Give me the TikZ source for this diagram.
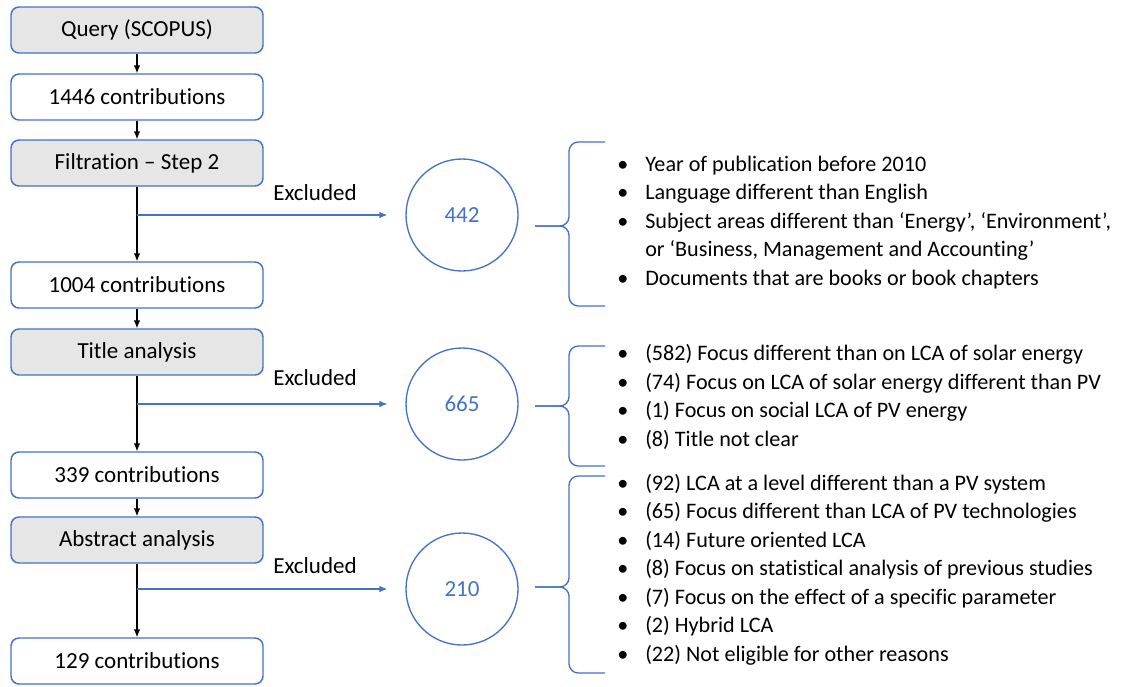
\documentclass[tikz,border=0pt]{standalone}
\usepackage{fontspec}
\setmainfont{Carlito}[Ligatures={NoCommon}]
\usetikzlibrary{arrows.meta}
\definecolor{ofblue}{HTML}{4472C4}
\definecolor{ofgray}{HTML}{E7E6E6}

\begin{document}
\begin{tikzpicture}[x=0.75pt, y=-0.75pt, >=Latex,
  box/.style={draw=ofblue, line width=1.1pt, rounded corners=6pt, minimum width=189pt, minimum height=34.5pt, font=\fontsize{17.25}{20}\selectfont},
  proc/.style={box, fill=ofgray},
  cnt/.style={box, fill=white},
  excl/.style={draw=ofblue, line width=1pt, circle, minimum size=84pt, text=ofblue, font=\fontsize{17.25}{20}\selectfont},
  flow/.style={->, line width=0.9pt, black, >={Latex[length=6pt,width=5pt]}},
  side/.style={->, line width=0.9pt, ofblue, >={Latex[length=6pt,width=5pt]}},
  lbl/.style={font=\fontsize{17.25}{20}\selectfont},
  reasons/.style={anchor=west, align=left, inner sep=0pt, font=\fontsize{16.6}{21.4}\selectfont}]
\useasboundingbox (0,0) rectangle (1148,686);
\newcommand{\bul}{\makebox[21pt][l]{\textbullet}}
% left column of boxes
\node[proc] (query) at (137,30)  {Query (SCOPUS)};
\node[cnt]  (n1446) at (137,97)  {1446 contributions};
\node[proc] (filt)  at (137,163) {Filtration -- Step 2};
\node[cnt]  (n1004) at (137,285) {1004 contributions};
\node[proc] (title) at (137,352) {Title analysis};
\node[cnt]  (n339)  at (137,475) {339 contributions};
\node[proc] (abstr) at (137,540) {Abstract analysis};
\node[cnt]  (n129)  at (137,661) {129 contributions};
% vertical flow
\draw[flow] (query) -- (n1446);
\draw[flow] (n1446) -- (filt);
\draw[flow] (filt) -- (n1004);
\draw[flow] (n1004) -- (title);
\draw[flow] (title) -- (n339);
\draw[flow] (n339) -- (abstr);
\draw[flow] (abstr) -- (n129);
% excluded circles
\node[excl] (c442) at (462,215) {442};
\node[excl] (c665) at (462,404) {665};
\node[excl] (c210) at (462,589) {210};
\coordinate (b442) at (137,215);
\coordinate (b665) at (137,404);
\coordinate (b210) at (137,589);
\draw[side, shorten >=13.5pt] (b442) -- (c442);
\draw[side, shorten >=13.5pt] (b665) -- (c665);
\draw[side, shorten >=13.5pt] (b210) -- (c210);
\node[lbl] (e442) at (315,193) {Excluded};
\node[lbl] (e665) at (315,378) {Excluded};
\node[lbl] (e210) at (315,566) {Excluded};
% braces
\foreach \t/\m/\b in {142/226/306, 346/406/466, 476/587/673}{
  \draw[ofblue, line width=1pt, rounded corners=7pt] (605,\t) -- (569,\t) -- (569,\m) -- (535,\m);
  \draw[ofblue, line width=1pt, rounded corners=7pt] (535,\m) -- (569,\m) -- (569,\b) -- (605,\b);
}
% reasons
\node[reasons] (r442) at (617,222.5) {\bul Year of publication before 2010\\
  \bul Language different than English\\
  \bul Subject areas different than ‘Energy’, ‘Environment’,\\
  \hspace*{21pt}or ‘Business, Management and Accounting’\\
  \bul Documents that are books or book chapters};
\node[reasons] (r665) at (617,397) {\bul (582) Focus different than on LCA of solar energy\\
  \bul (74) Focus on LCA of solar energy different than PV\\
  \bul (1) Focus on social LCA of PV energy\\
  \bul (8) Title not clear};
\node[reasons] (r210) at (617,569.5) {\bul (92) LCA at a level different than a PV system\\
  \bul (65) Focus different than LCA of PV technologies\\
  \bul (14) Future oriented LCA\\
  \bul (8) Focus on statistical analysis of previous studies\\
  \bul (7) Focus on the effect of a specific parameter\\
  \bul (2) Hybrid LCA\\
  \bul (22) Not eligible for other reasons};
\end{tikzpicture}
\end{document}
